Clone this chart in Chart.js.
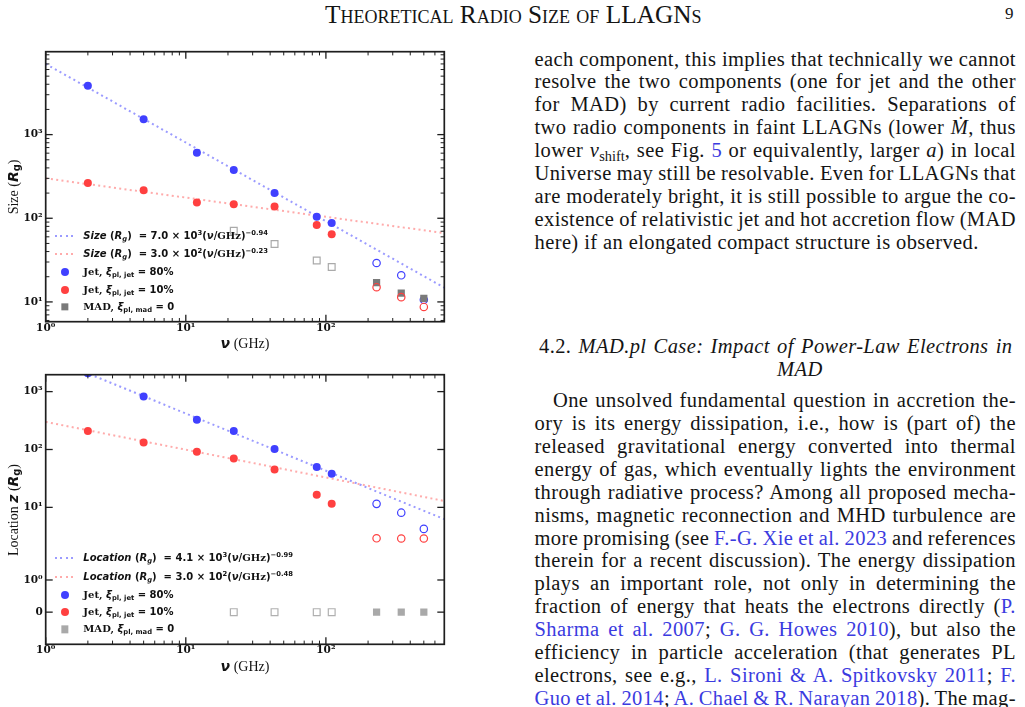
<!DOCTYPE html>
<html lang="en">
<head>
<meta charset="utf-8">
<title>Theoretical Radio Size of LLAGNs</title>
<script src="https://cdn.jsdelivr.net/npm/chart.js@4/dist/chart.umd.min.js"></script>
<style>
  html, body { margin:0; padding:0; background:#fff; }
  body { width:1025px; height:707px; position:relative; overflow:hidden; color:#141414;
         font-family:"Liberation Serif","DejaVu Serif",serif; }
  .cv { position:absolute; }
  .hdr { position:absolute; top:3px; white-space:nowrap; font-size:17px; line-height:22px; font-variant:small-caps; }
  .pg { position:absolute; top:3px; left:1005px; font-size:17px; line-height:22px; }
  .para { position:absolute; left:534.5px; width:481px; font-size:20.5px; letter-spacing:0.4px; }
  .para > div { height:22.9px; line-height:22.9px; white-space:nowrap; }
  .para sub { font-size:70%; vertical-align:-0.25em; line-height:0; letter-spacing:0; }
  .lk { color:#3b3be0; }
  .ytitle { position:absolute; white-space:nowrap; font-size:14px; transform:translate(-50%,-50%) rotate(-90deg); }
  .xtitle { position:absolute; white-space:nowrap; font-size:14px; transform:translate(-50%,-50%); }
  .bs { font-family:"DejaVu Sans",sans-serif; font-weight:bold; }
  .ytitle sub, .xtitle sub { font-size:70%; vertical-align:-0.3em; line-height:0; }
  .lg { position:absolute; left:83.3px; font-family:"DejaVu Sans",sans-serif; font-weight:bold; font-size:10px;
        white-space:nowrap; line-height:12px; transform:translateY(-50%); color:#111; }
  .lg .sf { font-family:"DejaVu Serif",serif; }
  .lg sub { font-size:68%; vertical-align:-0.3em; line-height:0; }
  .lg sup { font-size:68%; vertical-align:0.55em; line-height:0; }
  .mk { position:absolute; transform:translate(-50%,-50%); box-sizing:border-box; }
  .dl { position:absolute; width:21px; height:2px; transform:translateY(-50%); }
</style>
</head>
<body>

<div class="hdr" id="hdr">Theoretical Radio Size of LLAGNs</div>
<div class="pg">9</div>

<div class="cv" style="left:0;top:40px;width:460px;height:320px;"><canvas id="c1" width="460" height="320"></canvas></div>
<div class="cv" style="left:0;top:360px;width:460px;height:320px;"><canvas id="c2" width="460" height="320"></canvas></div>

<!-- axis titles -->
<div class="ytitle" style="left:12.7px;top:186.7px;">Size (<span class="bs"><i>R</i><sub>g</sub></span>)</div>
<div class="xtitle" style="left:245px;top:343.3px;"><span class="bs"><i>ν</i></span> (GHz)</div>
<div class="ytitle" style="left:12.7px;top:509.5px;">Location <span class="bs"><i>z</i></span> (<span class="bs"><i>R</i><sub>g</sub></span>)</div>
<div class="xtitle" style="left:245px;top:666px;"><span class="bs"><i>ν</i></span> (GHz)</div>

<!-- legend, top panel -->
<div class="dl" style="left:55px;top:235.7px;background:repeating-linear-gradient(90deg,#9b9bff 0 2px,transparent 2px 5.3px);"></div>
<div class="lg" style="top:235.7px;"><i>Size</i> (<i>R<sub>g</sub></i>) &nbsp;= 7.0 × 10<sup>3</sup>(<i>ν</i>/<span class="sf">GHz</span>)<sup>−0.94</sup></div>
<div class="dl" style="left:55px;top:254px;background:repeating-linear-gradient(90deg,#ffabab 0 2px,transparent 2px 5.3px);"></div>
<div class="lg" style="top:254px;"><i>Size</i> (<i>R<sub>g</sub></i>) &nbsp;= 3.0 × 10<sup>2</sup>(<i>ν</i>/<span class="sf">GHz</span>)<sup>−0.23</sup></div>
<div class="mk" style="left:64.5px;top:272.3px;width:8px;height:8px;border-radius:50%;background:#4040ff;"></div>
<div class="lg" style="top:272.3px;"><span class="sf">Jet,</span> <i>ξ</i><sub>pl, jet</sub> = 80%</div>
<div class="mk" style="left:64.5px;top:289.7px;width:8px;height:8px;border-radius:50%;background:#ff4040;"></div>
<div class="lg" style="top:289.7px;"><span class="sf">Jet,</span> <i>ξ</i><sub>pl, jet</sub> = 10%</div>
<div class="mk" style="left:64.5px;top:306.7px;width:7.3px;height:7.3px;background:#7a7a7a;"></div>
<div class="lg" style="top:306.7px;"><span class="sf">MAD,</span> <i>ξ</i><sub>pl, mad</sub> = 0</div>

<!-- legend, bottom panel -->
<div class="dl" style="left:55px;top:558.3px;background:repeating-linear-gradient(90deg,#9b9bff 0 2px,transparent 2px 5.3px);"></div>
<div class="lg" style="top:558.3px;"><i>Location</i> (<i>R<sub>g</sub></i>) &nbsp;= 4.1 × 10<sup>3</sup>(<i>ν</i>/<span class="sf">GHz</span>)<sup>−0.99</sup></div>
<div class="dl" style="left:55px;top:577px;background:repeating-linear-gradient(90deg,#ffabab 0 2px,transparent 2px 5.3px);"></div>
<div class="lg" style="top:577px;"><i>Location</i> (<i>R<sub>g</sub></i>) &nbsp;= 3.0 × 10<sup>2</sup>(<i>ν</i>/<span class="sf">GHz</span>)<sup>−0.48</sup></div>
<div class="mk" style="left:65px;top:595.3px;width:8px;height:8px;border-radius:50%;background:#4040ff;"></div>
<div class="lg" style="top:595.3px;"><span class="sf">Jet,</span> <i>ξ</i><sub>pl, jet</sub> = 80%</div>
<div class="mk" style="left:65px;top:612.3px;width:8px;height:8px;border-radius:50%;background:#ff4040;"></div>
<div class="lg" style="top:612.3px;"><span class="sf">Jet,</span> <i>ξ</i><sub>pl, jet</sub> = 10%</div>
<div class="mk" style="left:65px;top:629.3px;width:7.3px;height:7.3px;background:#a9a9a9;"></div>
<div class="lg" style="top:629.3px;"><span class="sf">MAD,</span> <i>ξ</i><sub>pl, mad</sub> = 0</div>

<!-- right column text -->
<div class="para" style="top:47.5px;">
<div class="j">each component, this implies that technically we cannot</div>
<div class="j">resolve the two components (one for jet and the other</div>
<div class="j">for MAD) by current radio facilities. Separations of</div>
<div class="j">two radio components in faint LLAGNs (lower <i>Ṁ</i>, thus</div>
<div class="j">lower <i>ν</i><sub>shift</sub>, see Fig. <span class="lk">5</span> or equivalently, larger <i>a</i>) in local</div>
<div class="j">Universe may still be resolvable. Even for LLAGNs that</div>
<div class="j">are moderately bright, it is still possible to argue the co-</div>
<div class="j">existence of relativistic jet and hot accretion flow (MAD</div>
<div>here) if an elongated compact structure is observed.</div>
</div>

<div class="para" style="top:334.8px;left:539px;width:473px;">
<div class="j">4.2. <i>MAD.pl Case: Impact of Power-Law Electrons in</i></div>
<div style="padding-left:238px;"><i>MAD</i></div>
</div>

<div class="para" style="top:389.2px;">
<div class="j" style="padding-left:18.5px;">One unsolved fundamental question in accretion the-</div>
<div class="j">ory is its energy dissipation, i.e., how is (part of) the</div>
<div class="j">released gravitational energy converted into thermal</div>
<div class="j">energy of gas, which eventually lights the environment</div>
<div class="j">through radiative process? Among all proposed mecha-</div>
<div class="j">nisms, magnetic reconnection and MHD turbulence are</div>
<div class="j">more promising (see <span class="lk">F.-G. Xie et al. 2023</span> and references</div>
<div class="j">therein for a recent discussion). The energy dissipation</div>
<div class="j">plays an important role, not only in determining the</div>
<div class="j">fraction of energy that heats the electrons directly (<span class="lk">P.</span></div>
<div class="j"><span class="lk">Sharma et al. 2007</span>; <span class="lk">G. G. Howes 2010</span>), but also the</div>
<div class="j">efficiency in particle acceleration (that generates PL</div>
<div class="j">electrons, see e.g., <span class="lk">L. Sironi &amp; A. Spitkovsky 2011</span>; <span class="lk">F.</span></div>
<div class="j"><span class="lk">Guo et al. 2014</span>; <span class="lk">A. Chael &amp; R. Narayan 2018</span>). The mag-</div>
</div>

<script>
// ---------------- data ----------------
const freqJet      = [2, 5, 12, 22, 43, 86, 110];     // GHz, filled jet points
const freqHigh     = [230, 345, 500];                 // GHz, open jet points / filled MAD
const freqMadOpen  = [22, 43, 86, 110];               // GHz, open MAD squares
const fitFreq      = [1, 700];                        // GHz, ends of the fitted power laws

// top panel: size (R_g)
const sizeJet80      = [3840, 1525, 608, 377, 200, 104, 88];
const sizeJet80Open  = [29.2, 20.8, 10.6];
const sizeJet10      = [264, 216, 154, 147, 138, 83, 64.4];
const sizeJet10Open  = [15, 11.4, 8.7];
const sizeMadOpen    = [71, 49.3, 31.2, 26.2];
const sizeMadFilled  = [17, 12.7, 11];
const sizeFitJet80   = [7000, 14.8];
const sizeFitJet10   = [300, 66.5];

// bottom panel: location z (R_g)
const locJet80      = [2080, 820, 325, 208, 101.6, 49.8, 38.1];
const locJet80Open  = [11.5, 8.1, 4.25];
const locJet10      = [208, 132, 91.5, 70, 45.3, 16.6, 11.5];
const locJet10Open  = [2.92, 2.9, 2.9];
const locMadOpen    = [0, 0, 0, 0];
const locMadFilled  = [0, 0, 0];
const locFitJet80   = [4100, 6.26];
const locFitJet10   = [300, 12.9];

// tick values
const xMajorTicks   = [1, 10, 100];
const xMinorTicks   = [2,3,4,5,6,7,8,9,20,30,40,50,60,70,80,90,200,300,400,500,600,700];
const yMajorTop     = [10, 100, 1000];
const yMinorTop     = [6,7,8,9,20,30,40,50,60,70,80,90,200,300,400,500,600,700,800,900,2000,3000,4000,5000,6000,7000,8000,9000];
const yMajorBottom  = [1000, 100, 10, 1, 0];

// ---------------- helpers ----------------
const BLUE = '#4040ff', RED = '#ff4040';
const SUP = {'0':'⁰','1':'¹','2':'²','3':'³','4':'⁴','5':'⁵','-':'⁻'};
function decadeLabel(v) {
  if (v === 0) return '0';
  const e = Math.round(Math.log10(v));
  return '10' + String(e).split('').map(c => SUP[c]).join('');
}
const pts = (xs, ys) => xs.map((x, i) => ({x: x, y: ys[i]}));

// symmetric-log scale (linthresh 2, linscale 1, base 10) as in the figure's lower panel
const LINTHRESH = 2, LINSCALE = 1 / (1 - 1 / 10);
function symT(v) {
  const a = Math.abs(v);
  return a <= LINTHRESH ? v * LINSCALE : Math.sign(v) * LINTHRESH * (LINSCALE + Math.log10(a / LINTHRESH));
}
function symInv(s) {
  const a = Math.abs(s);
  return a <= LINTHRESH * LINSCALE ? s / LINSCALE : Math.sign(s) * LINTHRESH * Math.pow(10, a / LINTHRESH - LINSCALE);
}
class SymLogScale extends Chart.Scale {
  static id = 'symlog';
  static defaults = {};
  determineDataLimits() {
    const {min, max} = this.getMinMax(true);
    this.min = Number.isFinite(min) ? min : 0;
    this.max = Number.isFinite(max) ? max : 1;
  }
  buildTicks() { return []; }
  configure() {
    super.configure();
    this._s0 = symT(this.min); this._s1 = symT(this.max);
  }
  getLabelForValue(v) { return String(v); }
  getPixelForValue(v) { return this.getPixelForDecimal((symT(v) - this._s0) / (this._s1 - this._s0)); }
  getValueForPixel(p) { return symInv(this._s0 + this.getDecimalForPixel(p) * (this._s1 - this._s0)); }
}
Chart.register(SymLogScale);

// frame + inward ticks on all four sides
const frameTicks = {
  id: 'frameTicks',
  afterDatasetsDraw(chart, args, o) {
    const {ctx, chartArea: a} = chart;
    const xs = chart.scales.x, ys = chart.scales.y;
    ctx.save();
    ctx.strokeStyle = '#1e1e1e';
    const seg = (x1, y1, x2, y2) => { ctx.beginPath(); ctx.moveTo(x1, y1); ctx.lineTo(x2, y2); ctx.stroke(); };
    const dx = (vals, len, lw) => {
      ctx.lineWidth = lw;
      (vals || []).forEach(v => {
        const x = xs.getPixelForValue(v);
        if (x < a.left - 0.5 || x > a.right + 0.5) return;
        seg(x, a.bottom, x, a.bottom - len); seg(x, a.top, x, a.top + len);
      });
    };
    const dy = (vals, len, lw) => {
      ctx.lineWidth = lw;
      (vals || []).forEach(v => {
        const y = ys.getPixelForValue(v);
        if (y < a.top - 0.5 || y > a.bottom + 0.5) return;
        seg(a.left, y, a.left + len, y); seg(a.right, y, a.right - len, y);
      });
    };
    dx(o.xMinor, 3.7, 1); dx(o.xMajor, 7, 1.3);
    dy(o.yMinor, 3.7, 1); dy(o.yMajor, 7, 1.3);
    ctx.lineWidth = 1.7;
    ctx.strokeRect(a.left, a.top, a.right - a.left, a.bottom - a.top);
    ctx.restore();
  }
};

const TICKFONT = {family: 'DejaVu Serif', weight: 'bold', size: 10.5};

function filled(data, color) {
  return {data, pointStyle: 'circle', pointRadius: 4, pointBackgroundColor: color, pointBorderWidth: 0, clip: 0};
}
function open(data, color) {
  return {data, pointStyle: 'circle', pointRadius: 3.7, pointBackgroundColor: 'rgba(255,255,255,0)',
          pointBorderColor: color, pointBorderWidth: 1.2, clip: 0};
}
function squareFilled(data, color) {
  return {data, pointStyle: 'rect', pointRadius: 5.1, pointBackgroundColor: color, pointBorderWidth: 0, clip: 0};
}
function squareOpen(data, color) {
  return {data, pointStyle: 'rect', pointRadius: 4.8, pointBackgroundColor: 'rgba(255,255,255,0)',
          pointBorderColor: color, pointBorderWidth: 1.2, clip: 0};
}
function fit(data, color) {
  return {data, showLine: true, pointRadius: 0, borderColor: color, borderWidth: 2,
          borderDash: [2, 3.3], borderCapStyle: 'butt', clip: 0};
}

function makeChart(id, datasets, yScale, pad, xHeight, yMinor) {
  return new Chart(document.getElementById(id), {
    type: 'scatter',
    data: {datasets},
    plugins: [frameTicks],
    options: {
      responsive: false, animation: false, events: [],
      layout: {padding: pad},
      plugins: {
        legend: {display: false}, tooltip: {enabled: false},
        frameTicks: {xMajor: xMajorTicks, xMinor: xMinorTicks, yMajor: yScale.majors, yMinor: yMinor}
      },
      scales: {
        x: {
          type: 'logarithmic', min: 1, max: 700, position: 'bottom',
          grid: {display: false, drawTicks: false}, border: {display: false},
          ticks: {autoSkip: false, maxRotation: 0, padding: 0, font: TICKFONT, color: '#111',
                  callback: (v) => decadeLabel(v)},
          afterBuildTicks: s => { s.ticks = xMajorTicks.map(v => ({value: v})); },
          afterFit: s => { s.height = xHeight; }
        },
        y: {
          type: yScale.type, min: yScale.min, max: yScale.max, position: 'left',
          grid: {display: false, drawTicks: false}, border: {display: false},
          ticks: {autoSkip: false, padding: 3, font: TICKFONT, color: '#111',
                  callback: (v) => decadeLabel(v)},
          afterBuildTicks: s => { s.ticks = yScale.majors.map(v => ({value: v})); },
          afterFit: s => { s.width = 45.7; }
        }
      }
    }
  });
}

makeChart('c1', [
  filled(pts(freqJet, sizeJet10), RED),
  open(pts(freqHigh, sizeJet10Open), RED),
  squareFilled(pts(freqHigh, sizeMadFilled), '#7a7a7a'),
  squareOpen(pts(freqMadOpen, sizeMadOpen), '#aaaaaa'),
  filled(pts(freqJet, sizeJet80), BLUE),
  open(pts(freqHigh, sizeJet80Open), BLUE),
  fit(pts(fitFreq, sizeFitJet80), '#9b9bff'),
  fit(pts(fitFreq, sizeFitJet10), '#ffabab')
], {type: 'logarithmic', min: 5.8, max: 9800, majors: yMajorTop},
   {left: 0, right: 15.7, top: 11.7, bottom: 0}, 38.3, yMinorTop);

makeChart('c2', [
  filled(pts(freqJet, locJet10), RED),
  open(pts(freqHigh, locJet10Open), RED),
  squareFilled(pts(freqHigh, locMadFilled), '#a9a9a9'),
  squareOpen(pts(freqMadOpen, locMadOpen), '#b0b0b0'),
  filled(pts(freqJet, locJet80), BLUE),
  open(pts(freqHigh, locJet80Open), BLUE),
  fit(pts(fitFreq, locFitJet80), '#9b9bff'),
  fit(pts(fitFreq, locFitJet10), '#ffabab')
], {type: 'symlog', min: -1, max: 1960, majors: yMajorBottom},
   {left: 0, right: 15.7, top: 14.7, bottom: 0}, 35.7, []);

// ---------------- text layout: justify each typeset line ----------------
document.querySelectorAll('.j').forEach(el => {
  const span = document.createElement('span');
  span.style.whiteSpace = 'nowrap';
  while (el.firstChild) span.appendChild(el.firstChild);
  el.appendChild(span);
  const cs = getComputedStyle(el);
  const target = el.clientWidth - (parseFloat(cs.paddingLeft) || 0) + 0.4;
  const w = span.getBoundingClientRect().width;
  const n = (span.textContent.trim().match(/ +/g) || []).length;
  if (n > 0) span.style.wordSpacing = ((target - w) / n) + 'px';
});
(function fitHeader() {
  const h = document.getElementById('hdr');
  const target = 375;
  const w = h.getBoundingClientRect().width;
  h.style.fontSize = (17 * target / w) + 'px';
  h.style.left = (512.5 - target / 2) + 'px';
})();
</script>
</body>
</html>
